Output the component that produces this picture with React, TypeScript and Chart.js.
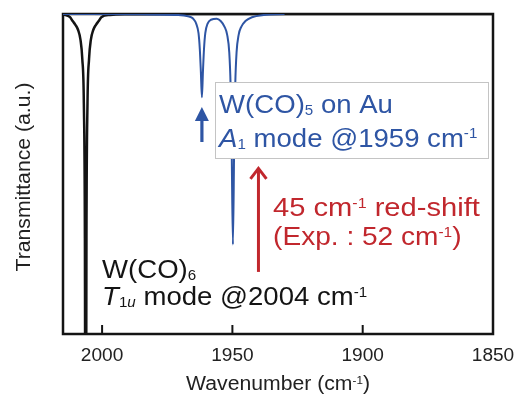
import React, { useEffect, useRef } from "react";
import { Chart, registerables } from "chart.js";

Chart.register(...registerables);

// ---- data (wavenumber in cm-1, transmittance in a.u.) ----
const wcoHexaWavenumber = [
  2015, 2012.3, 2011.3, 2010.3, 2009.2, 2008.3, 2007.6, 2007.0, 2006.6, 2006.3,
  2006.0, 2005.6, 2005.0, 2004.3, 2003.4, 2002.3, 2001.3, 2000.3, 1997, 1990, 1970, 1850,
];
const wcoHexaTransmittance = [
  0.999, 0.99, 0.978, 0.967, 0.95, 0.92, 0.86, 0.72, 0.3, -1.0,
  0.3, 0.72, 0.86, 0.92, 0.95, 0.967, 0.978, 0.99, 0.997, 0.999, 1.0, 1.0,
];
const wcoPentaAuWavenumber = [
  2015, 1985, 1972, 1967, 1965, 1963.9, 1963.0, 1962.5, 1962.1, 1961.7, 1961.3, 1960.9, 1960.4,
  1959.5, 1958.2, 1956, 1954.5, 1953, 1952, 1951.2, 1950.7, 1950.3, 1949.8, 1949.3, 1948.9,
  1948.4, 1947.6, 1946.6, 1945, 1942.5, 1938, 1930,
];
const wcoPentaAuTransmittance = [
  1.0, 0.999, 0.997, 0.993, 0.985, 0.97, 0.94, 0.89, 0.82, 0.74, 0.82, 0.89, 0.94,
  0.97, 0.982, 0.985, 0.978, 0.96, 0.935, 0.88, 0.78, 0.6, 0.28, 0.6, 0.78,
  0.88, 0.935, 0.96, 0.978, 0.99, 0.997, 1.0,
];
const xTickValues = [2000, 1950, 1900, 1850];
const xTickLabels = ["2000", "1950", "1900", "1850"];

const X_MIN = 1850;
const X_MAX = 2015;

const BLUE = "#2E55A4";
const RED = "#C1272D";
const BLACK = "#141414";
const FONT = '"Liberation Sans", Arial, Helvetica, sans-serif';
const STRETCH = 1.06;

type Part = { t: string; s?: "sub" | "sup"; i?: boolean };

function partFont(p: Part, size: number) {
  const fs = p.s ? size * 0.55 : size;
  return `${p.i ? "italic " : ""}${fs}px ${FONT}`;
}

function richWidth(ctx: CanvasRenderingContext2D, parts: Part[], size: number) {
  let w = 0;
  for (const p of parts) {
    ctx.font = partFont(p, size);
    w += ctx.measureText(p.t).width;
  }
  return w;
}

function drawRich(
  ctx: CanvasRenderingContext2D,
  x: number,
  y: number,
  parts: Part[],
  size: number,
  color: string,
  align: "left" | "center" = "left",
  stretch: number = STRETCH
) {
  ctx.save();
  ctx.translate(x, y);
  ctx.scale(stretch, 1);
  ctx.fillStyle = color;
  ctx.textBaseline = "alphabetic";
  ctx.textAlign = "left";
  let cx = align === "center" ? -richWidth(ctx, parts, size) / 2 : 0;
  for (const p of parts) {
    ctx.font = partFont(p, size);
    const dy = p.s === "sub" ? size * 0.08 : p.s === "sup" ? -size * 0.32 : 0;
    ctx.fillText(p.t, cx, dy);
    cx += ctx.measureText(p.t).width;
  }
  ctx.restore();
}

const boxText1: Part[] = [{ t: "W(CO)" }, { t: "5", s: "sub" }, { t: " on Au" }];
const boxText2: Part[] = [
  { t: "A", i: true },
  { t: "1", s: "sub" },
  { t: " mode @1959 cm" },
  { t: "-1", s: "sup" },
];
const redText1: Part[] = [{ t: "45 cm" }, { t: "-1", s: "sup" }, { t: " red-shift" }];
const redText2: Part[] = [{ t: "(Exp. : 52 cm" }, { t: "-1", s: "sup" }, { t: ")" }];
const blackText1: Part[] = [{ t: "W(CO)" }, { t: "6", s: "sub" }];
const blackText2: Part[] = [
  { t: "T", i: true },
  { t: "1", s: "sub" },
  { t: "u", s: "sub", i: true },
  { t: " mode @2004 cm" },
  { t: "-1", s: "sup" },
];
const xTitle: Part[] = [{ t: "Wavenumber (cm" }, { t: "-1", s: "sup" }, { t: ")" }];

const annotationPlugin = {
  id: "annotations",
  beforeDatasetsDraw(chart: any) {
    const { ctx, chartArea: a } = chart;
    const xs = chart.scales.x;
    ctx.save();
    ctx.strokeStyle = BLACK;
    ctx.lineWidth = 2;
    for (const v of xTickValues) {
      const px = xs.getPixelForValue(v);
      ctx.beginPath();
      ctx.moveTo(px, a.bottom);
      ctx.lineTo(px, a.bottom - 9);
      ctx.stroke();
    }
    ctx.lineWidth = 2.5;
    ctx.strokeRect(a.left, a.top, a.right - a.left, a.bottom - a.top);
    ctx.restore();
  },
  afterDatasetsDraw(chart: any) {
    const { ctx, chartArea: a } = chart;
    const xs = chart.scales.x;
    const ys = chart.scales.y;
    const X = (v: number) => xs.getPixelForValue(v);
    const Y = (v: number) => ys.getPixelForValue(v);
    ctx.save();

    // blue arrow (filled head)
    const bx = X(1961.7);
    const bTip = Y(0.709);
    const bBase = Y(0.6);
    ctx.strokeStyle = BLUE;
    ctx.fillStyle = BLUE;
    ctx.lineWidth = 3.2;
    ctx.beginPath();
    ctx.moveTo(bx, bBase);
    ctx.lineTo(bx, bTip + 10);
    ctx.stroke();
    ctx.beginPath();
    ctx.moveTo(bx, bTip);
    ctx.lineTo(bx - 7, bTip + 14);
    ctx.lineTo(bx + 7, bTip + 14);
    ctx.closePath();
    ctx.fill();

    // box
    const l = X(1956.7), r = X(1851.9), t = Y(0.7875), b = Y(0.55);
    ctx.fillStyle = "#ffffff";
    ctx.fillRect(l, t, r - l, b - t);
    ctx.strokeStyle = "#c4c4c4";
    ctx.lineWidth = 1;
    ctx.strokeRect(Math.round(l) + 0.5, Math.round(t) + 0.5, Math.round(r - l), Math.round(b - t));
    drawRich(ctx, X(1955.1), Y(0.6897), boxText1, 26, BLUE);
    drawRich(ctx, X(1955.1), Y(0.5853), boxText2, 26, BLUE);

    // red arrow (open head)
    const rx = X(1940);
    const rTip = Y(0.522);
    const rBase = Y(0.194);
    ctx.strokeStyle = RED;
    ctx.lineWidth = 3;
    ctx.lineCap = "butt";
    ctx.beginPath();
    ctx.moveTo(rx, rBase);
    ctx.lineTo(rx, rTip + 1);
    ctx.stroke();
    ctx.lineJoin = "miter";
    ctx.beginPath();
    ctx.moveTo(rx - 8, rTip + 12);
    ctx.lineTo(rx, rTip + 1.5);
    ctx.lineTo(rx + 8, rTip + 12);
    ctx.stroke();
    drawRich(ctx, X(1934.4), Y(0.369), redText1, 26, RED, "left", 1.12);
    drawRich(ctx, X(1934.4), Y(0.2766), redText2, 26, RED, "left", 1.08);

    // black labels
    drawRich(ctx, X(2000), Y(0.175), blackText1, 26, BLACK);
    drawRich(ctx, X(2000), Y(0.0906), blackText2, 26, BLACK);

    // tick labels
    for (let i = 0; i < xTickValues.length; i++) {
      drawRich(ctx, X(xTickValues[i]), a.bottom + 27, [{ t: xTickLabels[i] }], 18, "#222", "center");
    }
    // x title
    drawRich(ctx, (a.left + a.right) / 2, a.bottom + 56, xTitle, 20, "#222", "center");
    // y title
    ctx.save();
    ctx.translate(a.left - 33, (a.top + a.bottom) / 2 + 3);
    ctx.rotate(-Math.PI / 2);
    drawRich(ctx, 0, 0, [{ t: "Transmittance (a.u.)" }], 20, "#222", "center");
    ctx.restore();

    ctx.restore();
  },
};

export default function App() {
  const ref = useRef<HTMLCanvasElement | null>(null);
  useEffect(() => {
    if (!ref.current) return;
    const blue = wcoPentaAuWavenumber.map((x, i) => ({ x, y: wcoPentaAuTransmittance[i] }));
    const black = wcoHexaWavenumber.map((x, i) => ({ x, y: wcoHexaTransmittance[i] }));
    const chart = new Chart(ref.current, {
      type: "scatter",
      data: {
        datasets: [
          {
            label: "W(CO)5 on Au",
            data: blue,
            showLine: true,
            borderColor: BLUE,
            borderWidth: 2,
            pointRadius: 0,
            cubicInterpolationMode: "monotone",
          },
          {
            label: "W(CO)6",
            data: black,
            showLine: true,
            borderColor: BLACK,
            borderWidth: 2.5,
            pointRadius: 0,
            cubicInterpolationMode: "monotone",
          },
        ],
      },
      options: {
        animation: false,
        responsive: false,
        devicePixelRatio: 1,
        events: [],
        layout: { padding: { left: 63, top: 14, right: 26, bottom: 60 } },
        scales: {
          x: { type: "linear", reverse: true, min: X_MIN, max: X_MAX, display: false },
          y: { type: "linear", min: 0, max: 1, display: false },
        },
        plugins: { legend: { display: false }, tooltip: { enabled: false } },
      },
      plugins: [annotationPlugin],
    });
    return () => chart.destroy();
  }, []);
  return (
    <div style={{ position: "absolute", left: 0, top: 0, width: 519, height: 394, background: "#fff" }}>
      <canvas ref={ref} width={519} height={394} style={{ display: "block" }} />
    </div>
  );
}
